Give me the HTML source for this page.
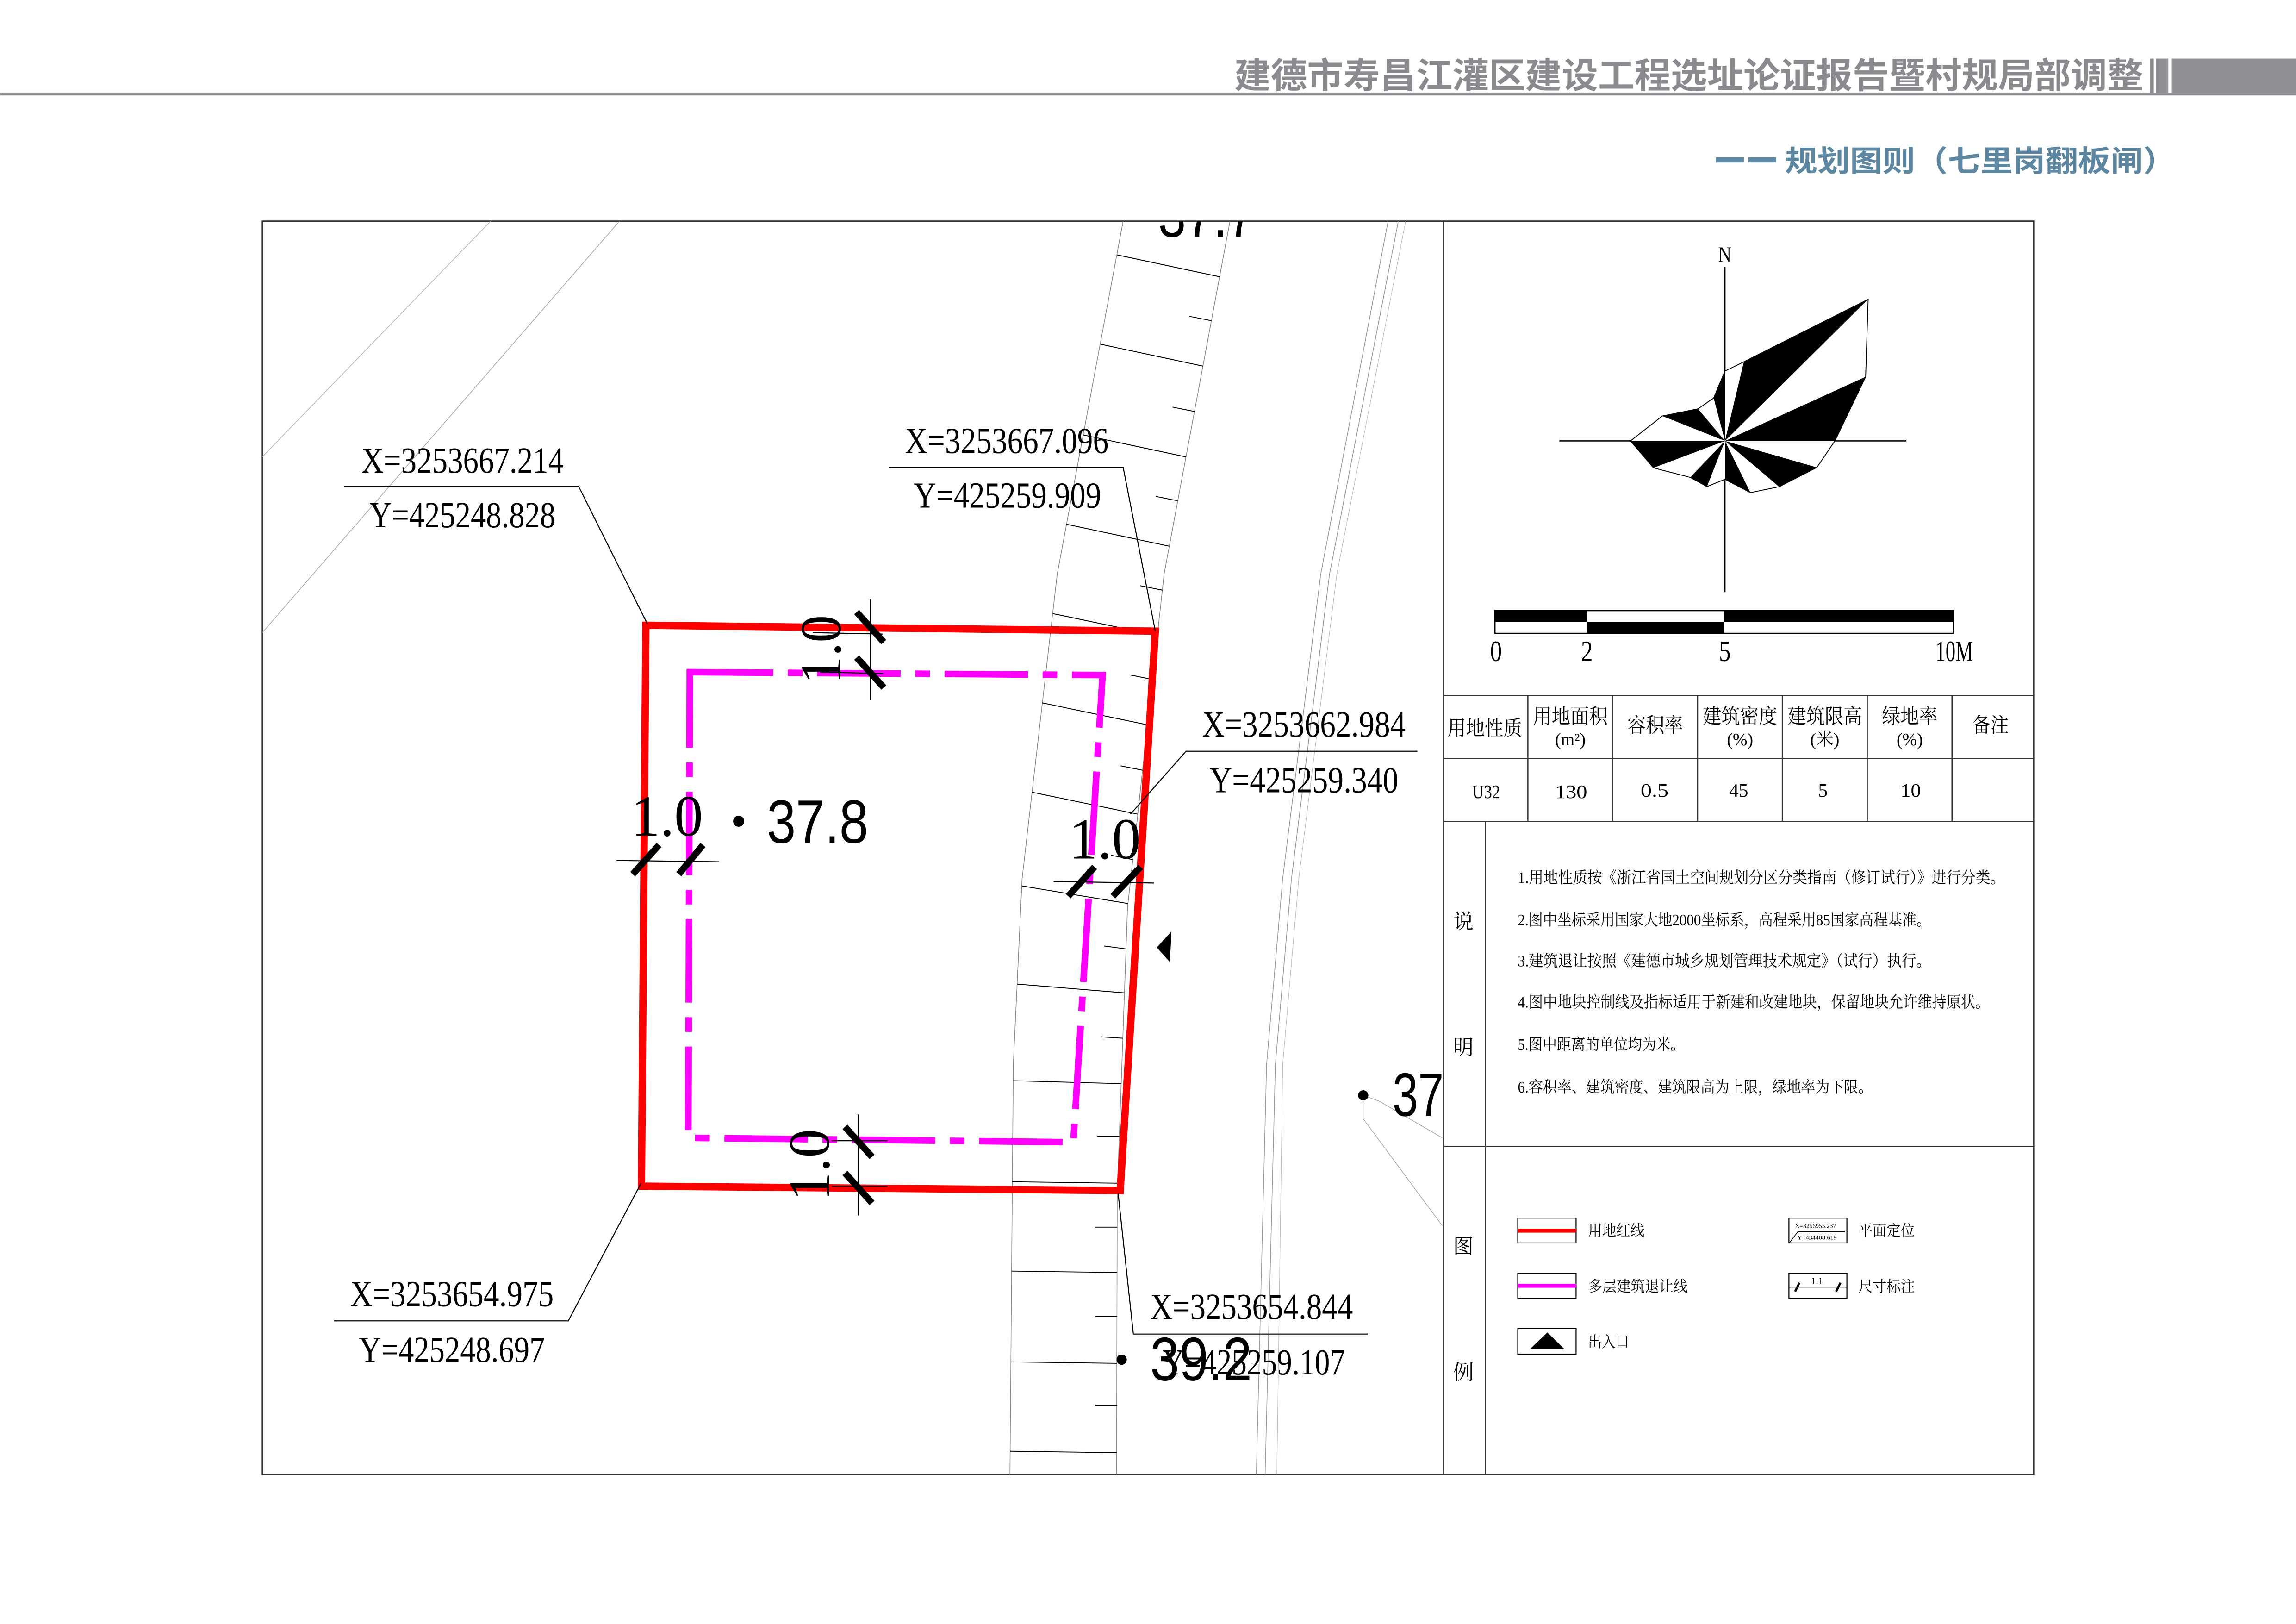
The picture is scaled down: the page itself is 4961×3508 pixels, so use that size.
<!DOCTYPE html>
<html><head><meta charset="utf-8"><style>
html,body{margin:0;padding:0;background:#fff;}
svg{display:block;}
.lbl{font-family:"Liberation Serif","Noto Serif CJK SC",serif;font-size:25px;fill:#000;}
.big{font-family:"Liberation Sans",sans-serif;font-size:42px;fill:#000;}
.dim{font-family:"Liberation Serif",serif;font-size:40px;fill:#000;}
.cn{font-family:"Liberation Serif","Noto Serif CJK SC",serif;fill:#000;}
</style></head><body>
<svg width="4961" height="3508" viewBox="0 0 1568 1109" xmlns="http://www.w3.org/2000/svg">
<defs><clipPath id="fr"><rect x="179" y="151" width="807" height="856"/></clipPath></defs>
<rect x="0" y="0" width="1568" height="1109" fill="#fff"/>
<!-- header -->
<rect x="0" y="63.2" width="1568" height="2" fill="#8f8f93"/>
<rect x="1468.5" y="40" width="2.5" height="25" fill="#8f8f93"/>
<rect x="1472.5" y="40" width="8.5" height="25" fill="#8f8f93"/>
<rect x="1483" y="40" width="85" height="25" fill="#8f8f93"/>
<text x="843" y="60" font-family="'Noto Sans CJK SC',sans-serif" font-weight="bold" font-size="24" fill="#8a8a8f" textLength="621" lengthAdjust="spacingAndGlyphs">建德市寿昌江灌区建设工程选址论证报告暨村规局部调整</text>
<rect x="1172" y="107.5" width="19" height="3.5" fill="#5d87a0"/>
<rect x="1194" y="107.5" width="19" height="3.5" fill="#5d87a0"/>
<text x="1219" y="117" font-family="'Noto Sans CJK SC',sans-serif" font-weight="bold" font-size="20" fill="#5d87a0" textLength="267" lengthAdjust="spacingAndGlyphs">规划图则（七里岗翻板闸）</text>

<!-- frame -->
<rect x="179" y="151" width="1210" height="856" fill="none" stroke="#333" stroke-width="0.9"/>
<line x1="986" y1="151" x2="986" y2="1007" stroke="#333" stroke-width="0.9"/>

<g clip-path="url(#fr)">
<!-- faint lines -->
<line x1="423" y1="151" x2="179" y2="432" stroke="#999" stroke-width="0.4"/>
<line x1="335" y1="151" x2="179" y2="312" stroke="#aaa" stroke-width="0.4"/>
<!-- road edges -->
<polyline points="767,151 722,392 698,600 692,727 689.7,1007" fill="none" stroke="#888" stroke-width="0.5"/>
<polyline points="840,151 795,392 770,620 763,815 762.5,1007" fill="none" stroke="#888" stroke-width="0.5"/>
<polyline points="948,151 902,392 876,600 865,727 858,1007" fill="none" stroke="#999" stroke-width="0.5"/>
<polyline points="955,151 908,392 882,600 871,727 864,1007" fill="none" stroke="#999" stroke-width="0.5"/>
<polyline points="960,151 913,392 887,600 876,727 872,1007" fill="none" stroke="#bbb" stroke-width="0.4"/>
<!-- long ticks -->
<g stroke="#000" stroke-width="0.6">
<line x1="762.7" y1="174" x2="832.9" y2="189"/>
<line x1="751.3" y1="235" x2="821.5" y2="250"/>
<line x1="739.7" y1="297" x2="809.9" y2="312"/>
<line x1="728.3" y1="358" x2="798.5" y2="373"/>
<line x1="718.9" y1="419" x2="790.4" y2="434"/>
<line x1="711.8" y1="480" x2="783.7" y2="495"/>
<line x1="704.8" y1="541" x2="777" y2="556"/>
<line x1="697.8" y1="605" x2="770.3" y2="617"/>
<line x1="694.6" y1="672" x2="767.9" y2="678"/>
<line x1="692" y1="738" x2="765.7" y2="740"/>
<line x1="691.3" y1="807" x2="763.3" y2="808"/>
<line x1="690.8" y1="868" x2="763" y2="869"/>
<line x1="690.3" y1="930" x2="762.7" y2="931"/>
<line x1="689.8" y1="991" x2="762.6" y2="992"/>
<!-- short ticks -->
<line x1="812.3" y1="216" x2="827.3" y2="219"/>
<line x1="800.7" y1="278" x2="815.7" y2="281"/>
<line x1="789.3" y1="339" x2="804.3" y2="342"/>
<line x1="778.8" y1="400" x2="793.8" y2="403"/>
<line x1="772.1" y1="461" x2="787.1" y2="464"/>
<line x1="765.3" y1="523" x2="780.3" y2="526"/>
<line x1="758.6" y1="584" x2="773.6" y2="587"/>
<line x1="754" y1="646" x2="769" y2="648"/>
<line x1="751.8" y1="708" x2="766.8" y2="709"/>
<line x1="749.4" y1="776" x2="764.4" y2="776"/>
<line x1="748" y1="838" x2="763" y2="838"/>
<line x1="748" y1="899" x2="763" y2="899"/>
<line x1="748" y1="960" x2="763" y2="960"/>
</g>
<text class="big" x="791" y="161.7" textLength="66" lengthAdjust="spacingAndGlyphs">37.7</text>
<!-- faint lines near 37 -->
<polyline points="931,748 942,752 985,777" fill="none" stroke="#999" stroke-width="0.4"/>
<polyline points="931,752 931,764 985,837" fill="none" stroke="#999" stroke-width="0.4"/>
</g>

<!-- red & magenta -->
<polygon points="441,427 789,431 765,813 438,810" fill="none" stroke="#ff0000" stroke-width="5" stroke-linejoin="miter"/>
<polygon points="471,459 753,461 733,780 470,777" fill="none" stroke="#ff00ff" stroke-width="4.5" stroke-dasharray="57 10 10 10"/>

<!-- dimension marks -->
<g stroke="#000" stroke-width="0.7">
<line x1="594.3" y1="409" x2="594.3" y2="478"/>
<line x1="555" y1="432" x2="603" y2="433"/>
<line x1="560" y1="459" x2="603" y2="460"/>
<line x1="421" y1="587.6" x2="491" y2="588.5"/>
<line x1="719.5" y1="602" x2="788" y2="603"/>
<line x1="586" y1="761" x2="586" y2="830"/>
<line x1="568" y1="779" x2="606" y2="779"/>
<line x1="568" y1="810" x2="606" y2="810"/>
</g>
<g stroke="#000" stroke-width="4.5">
<line x1="585" y1="418" x2="603.5" y2="438.5"/>
<line x1="585" y1="449" x2="603.5" y2="469.5"/>
<line x1="432" y1="597" x2="450" y2="577"/>
<line x1="463.5" y1="597" x2="480" y2="577"/>
<line x1="729.5" y1="612" x2="747.5" y2="592"/>
<line x1="760" y1="612" x2="779" y2="592"/>
<line x1="577" y1="769.5" x2="595.5" y2="790"/>
<line x1="577" y1="801" x2="595.5" y2="821.5"/>
</g>
<text class="dim" transform="translate(574,467) rotate(-90)" textLength="47" lengthAdjust="spacingAndGlyphs">1.0</text>
<text class="dim" transform="translate(566,820) rotate(-90)" textLength="49" lengthAdjust="spacingAndGlyphs">1.0</text>
<text class="dim" x="431" y="570.6" textLength="49" lengthAdjust="spacingAndGlyphs">1.0</text>
<text class="dim" x="730" y="586.2" textLength="49" lengthAdjust="spacingAndGlyphs">1.0</text>

<!-- elevations -->
<circle cx="504.4" cy="560.8" r="3.8" fill="#000"/>
<text class="big" x="523.6" y="575.6" textLength="69.4" lengthAdjust="spacingAndGlyphs">37.8</text>
<circle cx="931" cy="748" r="3.5" fill="#000"/>
<text class="big" x="951" y="762" textLength="35" lengthAdjust="spacingAndGlyphs">37</text>
<circle cx="766" cy="928.5" r="3.5" fill="#000"/>
<text class="big" x="785.5" y="942.6" textLength="69.5" lengthAdjust="spacingAndGlyphs">39.2</text>
<polygon points="790,647 800,636 799,657" fill="#000"/>

<!-- coordinate labels -->
<g stroke="#000" stroke-width="0.7" fill="none">
<polyline points="235,332 395,332 442,426"/>
<polyline points="607,319 767,319 789,431"/>
<polyline points="968,513 810,513 772,556"/>
<polyline points="228,902 388,902 437.7,808"/>
<polyline points="934,911 774,911 763.6,815"/>
</g>
<text class="lbl" x="246.6" y="322.7" textLength="138.3" lengthAdjust="spacingAndGlyphs">X=3253667.214</text>
<text class="lbl" x="252.2" y="360" textLength="127" lengthAdjust="spacingAndGlyphs">Y=425248.828</text>
<text class="lbl" x="618" y="309.3" textLength="139" lengthAdjust="spacingAndGlyphs">X=3253667.096</text>
<text class="lbl" x="624" y="346.7" textLength="128" lengthAdjust="spacingAndGlyphs">Y=425259.909</text>
<text class="lbl" x="821" y="503" textLength="139" lengthAdjust="spacingAndGlyphs">X=3253662.984</text>
<text class="lbl" x="826" y="541" textLength="129" lengthAdjust="spacingAndGlyphs">Y=425259.340</text>
<text class="lbl" x="239" y="892" textLength="139" lengthAdjust="spacingAndGlyphs">X=3253654.975</text>
<text class="lbl" x="245" y="930" textLength="127" lengthAdjust="spacingAndGlyphs">Y=425248.697</text>
<text class="lbl" x="785.5" y="900.7" textLength="138.5" lengthAdjust="spacingAndGlyphs">X=3253654.844</text>
<text class="lbl" x="794" y="938.6" textLength="124.5" lengthAdjust="spacingAndGlyphs">Y=425259.107</text>

<!-- compass -->
<line x1="1178.1" y1="182.2" x2="1178.1" y2="404.3" stroke="#000" stroke-width="0.8"/>
<line x1="1065" y1="301.1" x2="1302" y2="301.1" stroke="#000" stroke-width="0.8"/>
<text x="1178" y="179" text-anchor="middle" font-family="'Liberation Serif',serif" font-size="15" textLength="9" lengthAdjust="spacingAndGlyphs">N</text>
<polygon points="1178.1,253.4 1191,247.1 1275.9,204.4 1274.2,257.3 1253.2,301.1 1240.9,319.2 1215.1,332.4 1195.5,336.4 1178.1,327.3 1165.8,332.3 1154.4,326 1129.3,319.5 1113.6,301.1 1135.3,284.1 1159.7,279.2 1170.4,271.8" fill="#fff" stroke="#000" stroke-width="0.6"/>
<g fill="#000">
<polygon points="1178.1,301.1 1191,247.1 1275.9,204.4"/>
<polygon points="1178.1,301.1 1274.2,257.3 1253.2,301.1"/>
<polygon points="1178.1,301.1 1240.9,319.2 1215.1,332.4"/>
<polygon points="1178.1,301.1 1195.5,336.4 1178.1,327.3"/>
<polygon points="1178.1,301.1 1165.8,332.3 1154.4,326"/>
<polygon points="1178.1,301.1 1129.3,319.5 1113.6,301.1"/>
<polygon points="1178.1,301.1 1135.3,284.1 1159.7,279.2"/>
<polygon points="1178.1,301.1 1170.4,271.8 1178.1,253.4"/>
</g>

<!-- scale bar -->
<rect x="1021" y="417" width="313" height="15.5" fill="#fff" stroke="#000" stroke-width="0.8"/>
<rect x="1021" y="417" width="62.8" height="7.8" fill="#000"/>
<rect x="1177.6" y="417" width="156.3" height="7.8" fill="#000"/>
<rect x="1083.8" y="424.8" width="93.8" height="7.7" fill="#000"/>
<g font-family="'Liberation Serif',serif" font-size="20">
<text x="1021.7" y="451.5" text-anchor="middle" textLength="8" lengthAdjust="spacingAndGlyphs">0</text>
<text x="1083.8" y="451.5" text-anchor="middle" textLength="8" lengthAdjust="spacingAndGlyphs">2</text>
<text x="1178" y="451.5" text-anchor="middle" textLength="8" lengthAdjust="spacingAndGlyphs">5</text>
<text x="1322" y="451.5" textLength="25.6" lengthAdjust="spacingAndGlyphs">10M</text>
</g>

<!-- table -->
<g stroke="#333" stroke-width="0.8">
<line x1="986" y1="475" x2="1389" y2="475"/>
<line x1="986" y1="518" x2="1389" y2="518"/>
<line x1="986" y1="561" x2="1389" y2="561"/>
<line x1="986" y1="783" x2="1389" y2="783"/>
<line x1="1014.5" y1="561" x2="1014.5" y2="1007"/>
<line x1="1043.5" y1="475" x2="1043.5" y2="561"/>
<line x1="1101.4" y1="475" x2="1101.4" y2="561"/>
<line x1="1159.4" y1="475" x2="1159.4" y2="561"/>
<line x1="1217.3" y1="475" x2="1217.3" y2="561"/>
<line x1="1275.3" y1="475" x2="1275.3" y2="561"/>
<line x1="1333.2" y1="475" x2="1333.2" y2="561"/>
</g>
<g class="cn" font-size="14" text-anchor="middle">
<text x="1014" y="502" textLength="51" lengthAdjust="spacingAndGlyphs">用地性质</text>
<text x="1072.5" y="494" textLength="51" lengthAdjust="spacingAndGlyphs">用地面积</text>
<text x="1072.5" y="509" font-size="12">(m²)</text>
<text x="1130.4" y="500" textLength="38" lengthAdjust="spacingAndGlyphs">容积率</text>
<text x="1188.4" y="494" textLength="51" lengthAdjust="spacingAndGlyphs">建筑密度</text>
<text x="1188.4" y="509" font-size="12">(%)</text>
<text x="1246.3" y="494" textLength="51" lengthAdjust="spacingAndGlyphs">建筑限高</text>
<text x="1246.3" y="509" font-size="12">(米)</text>
<text x="1304.3" y="494" textLength="38" lengthAdjust="spacingAndGlyphs">绿地率</text>
<text x="1304.3" y="509" font-size="12">(%)</text>
<text x="1359.5" y="500" textLength="25" lengthAdjust="spacingAndGlyphs">备注</text>
<text x="1015" y="545" font-size="13" textLength="19" lengthAdjust="spacingAndGlyphs">U32</text>
<text x="1073" y="545" font-size="13" textLength="22" lengthAdjust="spacingAndGlyphs">130</text>
<text x="1130" y="544" font-size="13" textLength="19" lengthAdjust="spacingAndGlyphs">0.5</text>
<text x="1187.5" y="544" font-size="13" textLength="13" lengthAdjust="spacingAndGlyphs">45</text>
<text x="1245" y="544" font-size="13">5</text>
<text x="1305" y="544" font-size="13" textLength="14" lengthAdjust="spacingAndGlyphs">10</text>
</g>
<g class="cn" font-size="14" text-anchor="middle">
<text x="999.4" y="634">说</text>
<text x="999.4" y="720">明</text>
<text x="999.4" y="856">图</text>
<text x="999.4" y="942">例</text>
</g>
<g class="cn" font-size="11">
<text x="1036.6" y="603" textLength="332.8" lengthAdjust="spacingAndGlyphs">1.用地性质按《浙江省国土空间规划分区分类指南（修订试行）》进行分类。</text>
<text x="1036.6" y="632" textLength="282.2" lengthAdjust="spacingAndGlyphs">2.图中坐标采用国家大地2000坐标系，高程采用85国家高程基准。</text>
<text x="1036.6" y="660" textLength="282.2" lengthAdjust="spacingAndGlyphs">3.建筑退让按照《建德市城乡规划管理技术规定》（试行）执行。</text>
<text x="1036.6" y="688" textLength="322.3" lengthAdjust="spacingAndGlyphs">4.图中地块控制线及指标适用于新建和改建地块，保留地块允许维持原状。</text>
<text x="1036.6" y="717" textLength="114" lengthAdjust="spacingAndGlyphs">5.图中距离的单位均为米。</text>
<text x="1036.6" y="746" textLength="242.4" lengthAdjust="spacingAndGlyphs">6.容积率、建筑密度、建筑限高为上限，绿地率为下限。</text>
</g>
<!-- legend -->
<g stroke="#000" stroke-width="0.7" fill="#fff">
<rect x="1036.6" y="831.8" width="39.8" height="17"/>
<rect x="1036.6" y="869.5" width="39.8" height="17"/>
<rect x="1036.6" y="907.2" width="39.8" height="17.5"/>
<rect x="1221.8" y="831.8" width="39.6" height="17"/>
<rect x="1221.8" y="869.5" width="39.6" height="17"/>
</g>
<line x1="1036.6" y1="840.4" x2="1076.4" y2="840.4" stroke="#ff0000" stroke-width="2.7"/>
<line x1="1036.6" y1="878" x2="1076.4" y2="878" stroke="#ff00ff" stroke-width="2.7"/>
<polygon points="1045.3,920.9 1056.8,909.9 1068.1,920.9" fill="#000"/>
<g stroke="#000" stroke-width="0.5">
<line x1="1228" y1="841" x2="1260" y2="841"/>
<line x1="1222" y1="848.8" x2="1228" y2="841"/>
<line x1="1222" y1="879" x2="1261.4" y2="879"/>
<line x1="1226" y1="882" x2="1229" y2="876" stroke-width="1.5"/>
<line x1="1254" y1="882" x2="1257" y2="876" stroke-width="1.5"/>
</g>
<text x="1240" y="838.6" text-anchor="middle" font-family="'Liberation Serif',serif" font-size="4" textLength="28" lengthAdjust="spacingAndGlyphs">X=3256955.237</text>
<text x="1241" y="846.5" text-anchor="middle" font-family="'Liberation Serif',serif" font-size="4" textLength="27" lengthAdjust="spacingAndGlyphs">Y=434408.619</text>
<text x="1241" y="877" text-anchor="middle" font-family="'Liberation Serif',serif" font-size="6.5">1.1</text>
<g class="cn" font-size="10.5">
<text x="1084.6" y="844" textLength="38.5" lengthAdjust="spacingAndGlyphs">用地红线</text>
<text x="1084.6" y="882" textLength="68" lengthAdjust="spacingAndGlyphs">多层建筑退让线</text>
<text x="1084.6" y="920" textLength="28" lengthAdjust="spacingAndGlyphs">出入口</text>
<text x="1269.3" y="844" textLength="38.5" lengthAdjust="spacingAndGlyphs">平面定位</text>
<text x="1269.3" y="882" textLength="38.5" lengthAdjust="spacingAndGlyphs">尺寸标注</text>
</g>
</svg>
</body></html>
